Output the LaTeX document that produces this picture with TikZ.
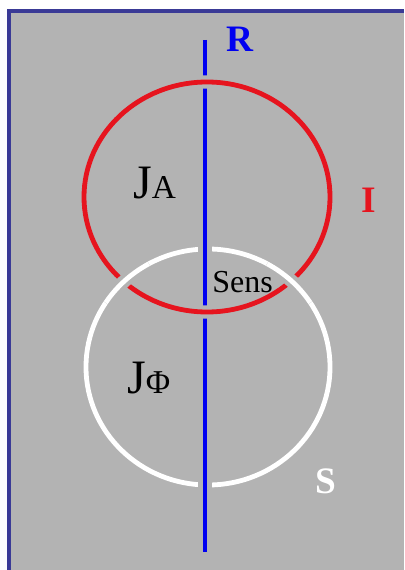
\documentclass[tikz,border=0pt]{standalone}
\usepackage{fontspec}
\setmainfont{Liberation Serif}
\definecolor{panelgray}{RGB}{179,179,179}
\definecolor{framenavy}{RGB}{58,58,150}
\definecolor{axisblue}{RGB}{0,0,240}
\definecolor{ringred}{RGB}{230,20,30}
\begin{document}
\begin{tikzpicture}[x=0.75pt,y=-0.75pt,
halo/.style={draw=panelgray,line width=10pt},
ring/.style={line width=3.6pt},
lbl/.style={inner sep=0pt,anchor=base west}]
\useasboundingbox (0,0) rectangle (404,570);
\fill[panelgray] (9,11) rectangle (404,570);
\draw[framenavy,line width=2.4pt] (9,570) -- (9,11) -- (404,11);
% set S
\draw[ring,white] (208,367) ellipse [x radius=122,y radius=118];
% axis R
\draw[halo] (205,40) -- (205,552);
\draw[ring,axisblue] (205,40) -- (205,552);
% set I
\draw[halo] (207,197) ellipse [x radius=123,y radius=115];
\draw[ring,ringred] (207,197) ellipse [x radius=123,y radius=115];
% S passes over I
\foreach \a/\b in {213/241,299/327}
  {
  \draw[halo,shift={(208,367)}] (\a:122 and 118) arc [start angle=\a,end angle=\b,x radius=122,y radius=118];
  \draw[ring,white,shift={(208,367)}] (\a:122 and 118) arc [start angle=\a,end angle=\b,x radius=122,y radius=118];
  }
\node[lbl,axisblue,font=\bfseries\fontsize{28}{28}\selectfont] (labelR) at (226,52) {R};
\node[lbl,ringred,font=\bfseries\fontsize{28}{28}\selectfont] (labelI) at (361,212) {I};
\node[lbl,white,font=\bfseries\fontsize{28}{28}\selectfont] (labelS) at (315,493) {S};
\node[lbl,font=\fontsize{24}{24}\selectfont] (sens) at (212,292) {Sens};
\node[lbl] (jA) at (133,199) {\fontsize{36}{36}\selectfont J\fontsize{25}{25}\selectfont A};
\node[lbl] (jPhi) at (127,393) {\fontsize{36}{36}\selectfont J\fontsize{25}{25}\selectfont Φ};
\end{tikzpicture}
\end{document}
